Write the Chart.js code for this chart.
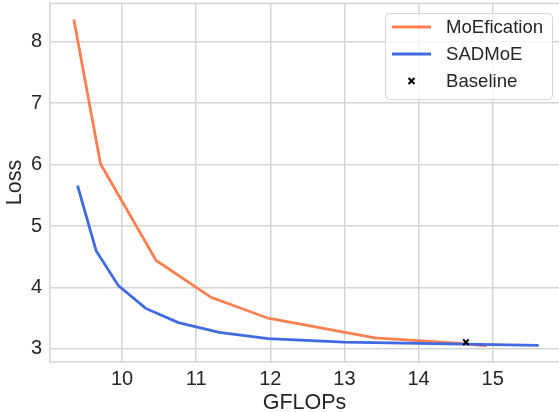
<!DOCTYPE html>
<html>
<head>
<meta charset="utf-8">
<script src="https://cdn.jsdelivr.net/npm/chart.js@4/dist/chart.umd.min.js"></script>
<style>
  html, body { margin: 0; padding: 0; background: #fff; overflow: hidden; }
  #wrap { width: 559px; height: 412px; }
</style>
</head>
<body>
<div id="wrap"><canvas id="myChart" width="559" height="412"></canvas></div>
<script>
// series (GFLOPs, loss)
const moeficationX = [9.35, 9.71, 10.46, 11.20, 11.97, 13.41, 14.56, 14.92];
const moeficationY = [8.36, 6.01, 4.44, 3.84, 3.50, 3.18, 3.09, 3.05];
const sadmoeX = [9.40, 9.65, 9.95, 10.32, 10.76, 11.31, 11.97, 12.99, 15.62];
const sadmoeY = [5.66, 4.60, 4.03, 3.66, 3.43, 3.27, 3.17, 3.11, 3.06];
const baselineX = [14.64];
const baselineY = [3.11];
const labels = ['MoEfication', 'SADMoE', 'Baseline'];
const xTicks = [10, 11, 12, 13, 14, 15];
const yTicks = [3, 4, 5, 6, 7, 8];

const fontFamily = '"Liberation Sans", Arial, sans-serif';
const gridColor = '#d4d4d4';
const textColor = '#262626';

function toPoints(xs, ys) {
    return xs.map((x, i) => ({ x: x, y: ys[i] }));
}

// light top spine like the seaborn frame
const frame = {
    id: 'frame',
    beforeDatasetsDraw(chart) {
        const { ctx, chartArea } = chart;
        ctx.save();
        ctx.strokeStyle = gridColor;
        ctx.lineWidth = 1.5;
        ctx.beginPath();
        ctx.moveTo(chartArea.left, chartArea.top + 0.5);
        ctx.lineTo(chartArea.right, chartArea.top + 0.5);
        ctx.stroke();
        ctx.restore();
    }
};

// legend box in the upper right corner
const boxLegend = {
    id: 'boxLegend',
    afterDraw(chart) {
        const ctx = chart.ctx;
        const x0 = 385, y0 = 13, w = 167, h = 86;
        ctx.save();
        ctx.beginPath();
        ctx.roundRect(x0 + 0.5, y0 + 0.5, w, h, 4);
        ctx.fillStyle = 'rgba(255,255,255,0.8)';
        ctx.fill();
        ctx.strokeStyle = '#d6d6d6';
        ctx.lineWidth = 1;
        ctx.stroke();

        ctx.font = '18.6px ' + fontFamily;
        ctx.textBaseline = 'middle';
        const rows = [27, 54, 81];
        chart.data.datasets.forEach((ds, i) => {
            const y = rows[i];
            if (ds.showLine === false) {
                const cx = 411.5, r = 3;
                ctx.strokeStyle = ds.borderColor;
                ctx.lineWidth = 2;
                ctx.beginPath();
                ctx.moveTo(cx - r, y - r); ctx.lineTo(cx + r, y + r);
                ctx.moveTo(cx - r, y + r); ctx.lineTo(cx + r, y - r);
                ctx.stroke();
            } else {
                ctx.strokeStyle = ds.borderColor;
                ctx.lineWidth = ds.borderWidth;
                ctx.beginPath();
                ctx.moveTo(392, y);
                ctx.lineTo(431, y);
                ctx.stroke();
            }
            ctx.fillStyle = textColor;
            ctx.fillText(ds.label, 446, y + 1);
        });
        ctx.restore();
    }
};

const ctx = document.getElementById('myChart').getContext('2d');
const myChart = new Chart(ctx, {
    type: 'scatter',
    data: {
        datasets: [{
            label: labels[0],
            data: toPoints(moeficationX, moeficationY),
            showLine: true,
            borderColor: '#ff7f50',
            backgroundColor: '#ff7f50',
            borderWidth: 2.8,
            pointRadius: 0,
            order: 2
        }, {
            label: labels[1],
            data: toPoints(sadmoeX, sadmoeY),
            showLine: true,
            borderColor: '#4169e1',
            backgroundColor: '#4169e1',
            borderWidth: 2.8,
            pointRadius: 0,
            order: 1
        }, {
            label: labels[2],
            data: toPoints(baselineX, baselineY),
            showLine: false,
            borderColor: '#000000',
            backgroundColor: '#000000',
            pointStyle: 'crossRot',
            pointRadius: 4,
            borderWidth: 2,
            order: 0
        }]
    },
    options: {
        responsive: false,
        animation: false,
        layout: { autoPadding: false, padding: { top: 3, right: 0, left: 0, bottom: 0 } },
        plugins: {
            legend: { display: false },
            tooltip: { enabled: false }
        },
        scales: {
            x: {
                type: 'linear',
                min: 9.028,
                max: 15.895,
                afterBuildTicks: s => { s.ticks = xTicks.map(v => ({ value: v })); },
                afterFit: s => { s.height = 50; s.paddingLeft = 0; s.paddingRight = 0; },
                grid: { color: gridColor, lineWidth: 1.5, tickLength: 0 },
                border: { color: gridColor, width: 1.5 },
                ticks: {
                    color: textColor,
                    padding: 5,
                    maxRotation: 0,
                    font: { family: fontFamily, size: 20 }
                },
                title: {
                    display: true,
                    text: 'GFLOPs',
                    color: textColor,
                    padding: { top: 0, bottom: 0 },
                    font: { family: fontFamily, size: 21.5, lineHeight: 0.85 }
                }
            },
            y: {
                type: 'linear',
                min: 2.788,
                max: 8.63,
                afterBuildTicks: s => { s.ticks = yTicks.map(v => ({ value: v })); },
                afterFit: s => { s.width = 50; s.paddingTop = 0; s.paddingBottom = 0; },
                grid: { color: gridColor, lineWidth: 1.5, tickLength: 0 },
                border: { color: gridColor, width: 1.5 },
                ticks: {
                    color: textColor,
                    padding: 8,
                    font: { family: fontFamily, size: 20 }
                },
                title: {
                    display: true,
                    text: 'Loss',
                    color: textColor,
                    padding: { top: 3, bottom: 0 },
                    font: { family: fontFamily, size: 21.5, lineHeight: 1.1 }
                }
            }
        }
    },
    plugins: [frame, boxLegend]
});
</script>
</body>
</html>
